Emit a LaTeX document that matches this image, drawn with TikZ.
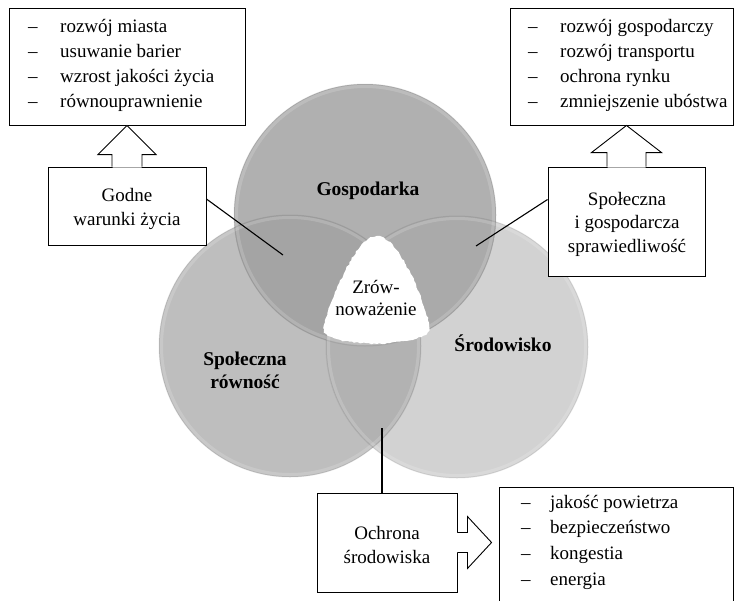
\documentclass[tikz,border=0pt]{standalone}
\usepackage{fontspec}
\setmainfont{Liberation Serif}
\usetikzlibrary{calc,decorations.pathmorphing}
\definecolor{ctop}{gray}{0.69}
\definecolor{cleft}{gray}{0.745}
\definecolor{cright}{gray}{0.825}
\definecolor{ctl}{gray}{0.645}
\definecolor{ctr}{gray}{0.665}
\definecolor{clr}{gray}{0.70}
\begin{document}
\begin{tikzpicture}[x=1pt,y=-1pt,
  font=\fontsize{19}{23.5}\selectfont,
  box/.style={draw=black, line width=0.9pt, fill=white, inner sep=0pt},
  btext/.style={inner sep=0pt, align=center},
  conn/.style={draw=black, line width=1.1pt},
  listtext/.style={anchor=west, inner sep=0pt, align=left, font=\fontsize{19}{25}\selectfont},
  blockarrow/.style={draw=black, line width=0.9pt, line join=miter},
  clabel/.style={inner sep=0pt, align=center, font=\bfseries\fontsize{19.5}{23}\selectfont},
  rimlight/.style={draw=white, draw opacity=0.16, line width=3pt},
  rimdark/.style={draw=black, draw opacity=0.07, line width=1pt}]
\useasboundingbox (0,0) rectangle (736,600);
\fill[white] (0,0) rectangle (736,600);

% circle centres
\coordinate (ct) at (365,215);
\coordinate (cl) at (290,346);
\coordinate (cr) at (457,347);
\def\R{131}

% circles
\fill[cleft] (cl) circle (\R);
\fill[cright] (cr) circle (\R);
\fill[ctop] (ct) circle (\R);
\begin{scope}
  \clip (ct) circle (\R);
  \fill[ctl] (cl) circle (\R);
  \fill[ctr] (cr) circle (\R);
\end{scope}
\begin{scope}
  \clip (cl) circle (\R);
  \fill[clr] (cr) circle (\R);
\end{scope}
\foreach \c in {cl,cr,ct} {
  \draw[rimlight] (\c) circle (\R-2.5);
  \draw[rimdark] (\c) circle (\R);
}

% central white blob
\fill[white, decorate, decoration={random steps, segment length=2.5pt, amplitude=0.8pt}]
  (377,236) .. controls (398,236) and (425,300) .. (429,325)
  .. controls (431,336) and (418,341) .. (377,344)
  .. controls (336,342) and (321,337) .. (324,325)
  .. controls (330,300) and (356,236) .. cycle;
\node[btext, font=\fontsize{19}{22}\selectfont] (zrow) at (376,297.5) {Zrów-\\noważenie};

% circle labels
\node[clabel, anchor=base] (gosp) at (368,195) {Gospodarka};
\node[clabel] (spr) at (245,370) {Społeczna\\równość};
\node[clabel, anchor=base] (srod) at (503,351) {Środowisko};

% list boxes
\node[box, minimum width=236, minimum height=117] (l1) at (127,66.5) {};
\node[listtext] (t1) at (28,65) {\makebox[32pt][l]{–}rozwój miasta\\
  \makebox[32pt][l]{–}usuwanie barier\\
  \makebox[32pt][l]{–}wzrost jakości życia\\
  \makebox[32pt][l]{–}równouprawnienie};

\node[box, minimum width=223, minimum height=117] (l2) at (621.5,66.5) {};
\node[listtext] (t2) at (528,65) {\makebox[32pt][l]{–}rozwój gospodarczy\\
  \makebox[32pt][l]{–}rozwój transportu\\
  \makebox[32pt][l]{–}ochrona rynku\\
  \makebox[32pt][l]{–}zmniejszenie ubóstwa};

\node[box, minimum width=234, minimum height=120] (l3) at (616,547) {};
\node[listtext, font=\fontsize{19}{25.7}\selectfont] (t3) at (521,542) {\makebox[29pt][l]{–}jakość powietrza\\
  \makebox[29pt][l]{–}bezpieczeństwo\\
  \makebox[29pt][l]{–}kongestia\\
  \makebox[29pt][l]{–}energia};

% label boxes
\node[box, minimum width=158, minimum height=78] (godne) at (127,206) {};
\node[btext] (godnet) at (127,209) {Godne\\warunki życia};
\node[box, minimum width=157, minimum height=109] (spol) at (626.5,221.5) {};
\node[btext] (spolt) at (627,224) {Społeczna\\i gospodarcza\\sprawiedliwość};
\node[box, minimum width=140, minimum height=99] (ochr) at (387,542.5) {};
\node[btext] (ochrt) at (387,545) {Ochrona\\środowiska};

% block arrows
\fill[white] ($(godne.north)+(-14.5,1)$) -- ($(godne.north)+(-14.5,-12)$) -- ($(godne.north)+(-29,-12)$)
  -- (l1.south -| godne.north) -- ($(godne.north)+(29,-12)$) -- ($(godne.north)+(14.5,-12)$) -- ($(godne.north)+(14.5,1)$) -- cycle;
\draw[blockarrow] ($(godne.north)+(-15,0)$) -- ($(godne.north)+(-15,-12)$) -- ($(godne.north)+(-29,-12)$)
  -- (l1.south -| godne.north) -- ($(godne.north)+(29,-12)$) -- ($(godne.north)+(15,-12)$) -- ($(godne.north)+(15,0)$);

\fill[white] ($(spol.north)+(-19,1)$) -- ($(spol.north)+(-19,-14)$) -- ($(spol.north)+(-35,-14)$)
  -- (l2.south -| spol.north) -- ($(spol.north)+(35,-14)$) -- ($(spol.north)+(19,-14)$) -- ($(spol.north)+(19,1)$) -- cycle;
\draw[blockarrow] ($(spol.north)+(-19.5,0)$) -- ($(spol.north)+(-19.5,-14)$) -- ($(spol.north)+(-35,-14)$)
  -- (l2.south -| spol.north) -- ($(spol.north)+(35,-14)$) -- ($(spol.north)+(19.5,-14)$) -- ($(spol.north)+(19.5,0)$);

\fill[white] ($(ochr.east)+(-1,-10)$) -- ($(ochr.east)+(10,-10)$) -- ($(ochr.east)+(10,-26)$)
  -- ($(l3.west |- ochr.east)+(-7,0)$) -- ($(ochr.east)+(10,26)$) -- ($(ochr.east)+(10,10)$) -- ($(ochr.east)+(-1,10)$) -- cycle;
\draw[blockarrow] ($(ochr.east)+(0,-10)$) -- ($(ochr.east)+(10,-10)$) -- ($(ochr.east)+(10,-26)$)
  -- ($(l3.west |- ochr.east)+(-7,0)$) -- ($(ochr.east)+(10,26)$) -- ($(ochr.east)+(10,10)$) -- ($(ochr.east)+(0,10)$);

% connectors
\coordinate (p1) at (283,255);
\coordinate (p2) at (476,246);
\coordinate (p3) at (382,428);
\draw[conn] ($(godne.east)+(0,-7)$) -- (p1);
\draw[conn] ($(spol.west)+(0,-22)$) -- (p2);
\draw[conn] (ochr.north -| p3) -- (p3);
\end{tikzpicture}
\end{document}
